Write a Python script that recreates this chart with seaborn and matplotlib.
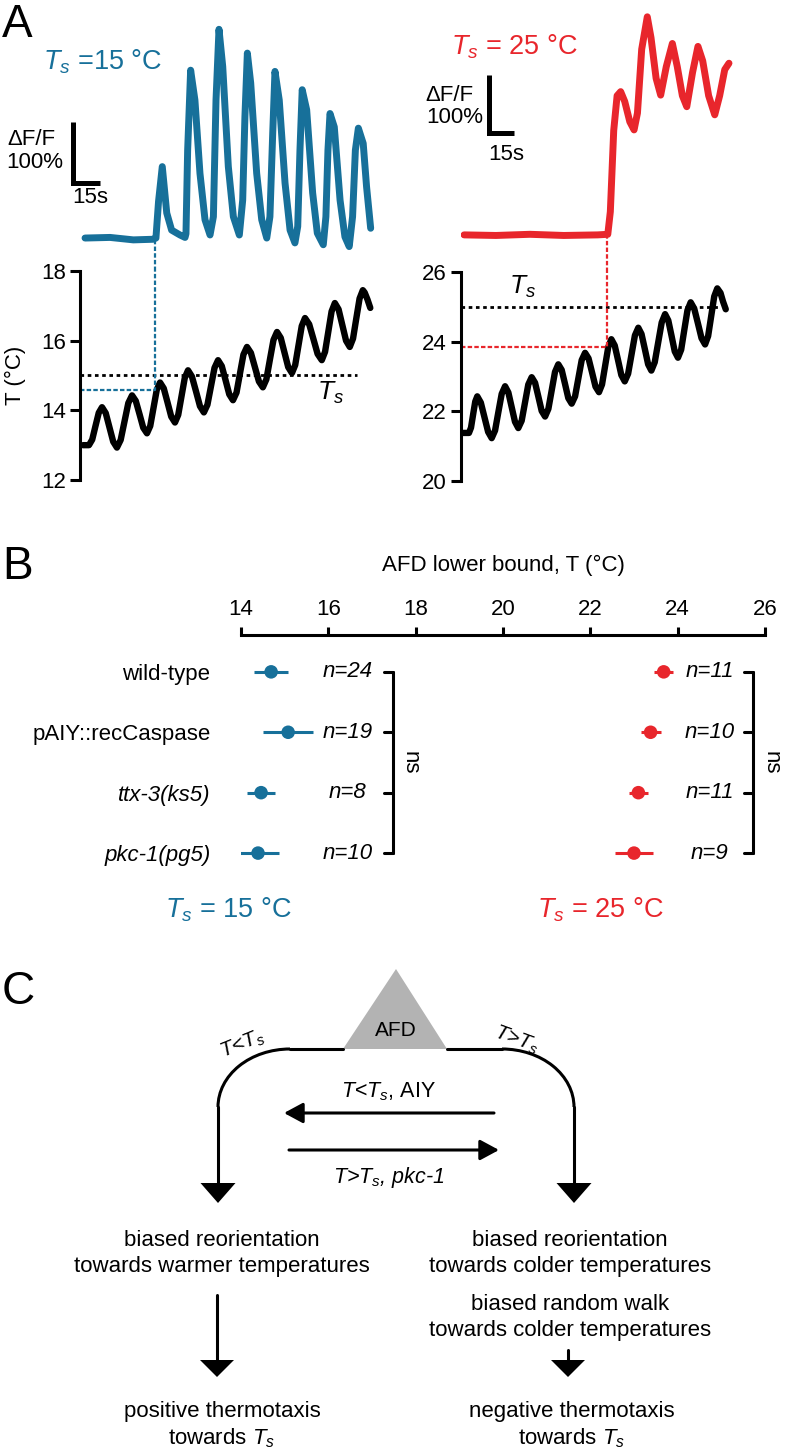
import matplotlib
matplotlib.use('Agg')
import matplotlib.pyplot as plt
import seaborn as sns
from matplotlib.patches import Polygon, Arc

# ---- panel A: Ts = 15 C (time in s, dF/F in %, temperature in C) ----
ca15_t = [1.1, 14.5, 27.0, 37.7, 39.1, 40.5, 42.5, 44.9, 47.5, 52.0, 54.7,
          55.2, 56.1, 57.7, 60.0, 62.7, 65.4, 68.1,
          69.9, 71.3, 72.9, 74.9, 77.9, 80.6, 83.8,
          85.6, 86.8, 88.1, 89.9, 93.1, 95.8, 98.5,
          100.2, 101.7, 102.9, 105.2, 108.3, 111.0, 113.6,
          115.1, 116.3, 117.5, 119.9, 123.1, 125.6, 128.8,
          130.2, 131.3, 132.4, 134.7, 137.8, 140.4, 142.7,
          144.5, 146.0, 147.6, 150.2, 152.0, 154.2]
ca15_v = [0, 1, -3, -2, 0, 60, 117, 41, 13, 5, 1,
          7, 144, 275, 226, 106, 30, 5,
          35, 226, 342, 281, 117, 35, 5,
          62, 199, 303, 254, 106, 30, 0,
          35, 172, 273, 226, 90, 13, -8,
          19, 144, 243, 210, 74, 8, -11,
          35, 144, 204, 182, 62, 2, -14,
          35, 144, 180, 155, 84, 16]
temp15_t = [0, 3.2, 4.95, 6.7, 8.45, 10.2, 12.2, 14.2, 16.2, 18.2, 20.2, 22.25, 24.3,
            26.3, 28.3, 30.3, 32.3, 34.3, 36.05, 37.8, 39.55, 41.3, 43.3, 45.3, 47.3,
            49.3, 51.05, 52.8, 54.55, 56.3, 58.4, 60.55, 62.7, 64.8, 66.7, 68.6, 70.5,
            72.4, 74.4, 76.4, 78.4, 80.4, 82.3, 84.15, 86.0, 87.9, 90.0, 92.15, 94.3,
            96.4, 98.3, 100.2, 102.1, 104.0, 106.0, 108.0, 110.0, 112.0, 113.75, 115.5,
            117.25, 119.0, 121.25, 123.5, 125.75, 128.0, 129.75, 131.5, 133.25, 135.0,
            137.0, 139.0, 141.0, 143.0, 144.75, 146.5, 148.25, 150.0, 151.0, 152.5, 154.0]
temp15_v = [13.0, 13.0, 13.16, 13.55, 13.93, 14.09, 13.92, 13.51, 13.10, 12.93, 13.15,
            13.68, 14.21, 14.43, 14.27, 13.89, 13.50, 13.34, 13.55, 14.07, 14.59, 14.80,
            14.63, 14.23, 13.82, 13.65, 13.87, 14.40, 14.93, 15.15, 14.97, 14.55, 14.12,
            13.94, 14.16, 14.69, 15.22, 15.44, 15.27, 14.87, 14.46, 14.29, 14.51, 15.06,
            15.60, 15.82, 15.65, 15.24, 14.83, 14.66, 14.89, 15.46, 16.02, 16.25, 16.08,
            15.66, 15.24, 15.07, 15.30, 15.86, 16.42, 16.65, 16.47, 16.05, 15.62, 15.44,
            15.68, 16.26, 16.84, 17.08, 16.90, 16.45, 16.00, 15.82, 16.06, 16.64, 17.21,
            17.45, 17.38, 17.18, 16.94]
thr15 = (38.6, 14.58)      # time of AFD onset, lower bound temperature

# ---- panel A: Ts = 25 C ----
ca25_t = [1.2, 20, 40, 60, 80, 86.0, 87.5, 89.5, 91.5, 93.6, 96.0, 99.0, 101.5,
          103.5, 106.0, 109.3, 111.5, 114.5, 117.2, 120.5, 124.1, 127.0, 130.0,
          132.6, 136.0, 139.2, 142.0, 145.5, 149.1, 152.0, 155.0, 157.5]
ca25_v = [0, -1, 1, -1, 0, 1, 40, 180, 240, 247, 230, 195, 181, 210, 320, 376, 340,
          270, 241, 290, 330, 290, 240, 221, 280, 325, 300, 240, 207, 240, 285, 296]
temp25_t = [0, 4.1, 5.3, 6.55, 7.8, 9.0, 11.1, 13.25, 15.4, 17.5, 19.5, 21.45, 23.4,
            25.4, 27.35, 29.3, 31.25, 33.2, 35.2, 37.15, 39.1, 41.1, 43.1, 45.05, 47.0,
            49.0, 50.95, 52.9, 54.85, 56.8, 58.8, 60.75, 62.7, 64.7, 66.7, 68.65, 70.6,
            72.6, 74.65, 76.7, 78.75, 80.8, 82.6, 84.45, 86.3, 88.1, 90.1, 92.05, 94.0,
            96.0, 98.0, 100.0, 102.0, 104.0, 105.9, 107.85, 109.8, 111.7, 113.7, 115.75,
            117.8, 119.8, 121.7, 123.6, 125.5, 127.4, 129.3, 131.15, 133.0, 134.9, 137.0,
            139.15, 141.3, 143.4, 145.2, 147.0, 148.8, 150.6, 152.5, 154.0, 155.6]
temp25_v = [21.38, 21.38, 21.53, 21.91, 22.28, 22.43, 22.25, 21.83, 21.41, 21.23, 21.45,
            21.98, 22.50, 22.72, 22.54, 22.12, 21.70, 21.52, 21.73, 22.25, 22.77, 22.98,
            22.82, 22.42, 22.01, 21.85, 22.07, 22.60, 23.13, 23.35, 23.19, 22.79, 22.38,
            22.22, 22.43, 22.95, 23.47, 23.68, 23.52, 23.12, 22.71, 22.55, 22.77, 23.31,
            23.85, 24.07, 23.89, 23.47, 23.04, 22.86, 23.08, 23.63, 24.18, 24.40, 24.22,
            23.79, 23.35, 23.17, 23.41, 23.98, 24.55, 24.79, 24.61, 24.17, 23.72, 23.54,
            23.77, 24.34, 24.90, 25.13, 24.95, 24.53, 24.10, 23.92, 24.16, 24.73, 25.30,
            25.53, 25.40, 25.15, 24.93]
thr25 = (85.7, 23.84)

# ---- panel B: AFD lower bound ----
strains = ['wild-type', 'pAIY::recCaspase', 'ttx-3(ks5)', 'pkc-1(pg5)']
strain_italic = [False, False, True, True]
lb15_mean = [14.69, 15.08, 14.46, 14.39]
lb15_sem = [0.39, 0.57, 0.32, 0.47]
lb15_n = ['n=24', 'n=19', 'n=8', 'n=10']
lb25_mean = [23.68, 23.38, 23.10, 23.00]
lb25_sem = [0.22, 0.23, 0.22, 0.43]
lb25_n = ['n=11', 'n=10', 'n=11', 'n=9']

BLUE = '#17709a'
RED = '#e8262c'

sns.set_theme(style='white')
plt.rcParams['font.family'] = ['Liberation Sans', 'DejaVu Sans']
plt.rcParams['mathtext.fontset'] = 'custom'
plt.rcParams['mathtext.rm'] = 'Liberation Sans'
plt.rcParams['mathtext.it'] = 'Liberation Sans:italic'
plt.rcParams['mathtext.bf'] = 'Liberation Sans:bold'
plt.rcParams.update({'text.color': 'black', 'axes.labelcolor': 'black',
                     'xtick.color': 'black', 'ytick.color': 'black'})

W, H = 788, 1456
FS = 16
fig = plt.figure(figsize=(W / 100, H / 100), dpi=100)


def rect(x0, y0, x1, y1):
    # pixel box (top-left origin) -> figure fraction
    return [x0 / W, 1 - y1 / H, (x1 - x0) / W, (y1 - y0) / H]


###--- panel A ---###
panels = [
    dict(ca_box=(80, 0, 380, 271), t_box=(80, 271, 380, 480), xlim=(-1.6, 159.2),
         ca_ylim=(-54, 390), t_ylim=(12, 18), ca_t=ca15_t, ca_v=ca15_v,
         tt=temp15_t, tv=temp15_v, thr=thr15, ts=15, ts_end=146.8, color=BLUE,
         ts_lab=(125.4, 14.30), bar=(-5.6, 9.1, 90, 190),
         dff=(-15.0, 161), pct=(-10.8, 123), sec=(3.8, 67), ylabel=True),
    dict(ca_box=(461, 0, 760, 272), t_box=(461, 272, 760, 481), xlim=(-0.6, 175.8),
         ca_ylim=(-64, 405), t_ylim=(20, 26), ca_t=ca25_t, ca_v=ca25_v,
         tt=temp25_t, tv=temp25_v, thr=thr25, ts=25, ts_end=151.6, color=RED,
         ts_lab=(27.7, 25.36), bar=(16.2, 30.7, 176, 276),
         dff=(7.0, 241), pct=(12.6, 202), sec=(26.0, 138), ylabel=False),
]

for p in panels:
    ax_ca = fig.add_axes(rect(*p['ca_box']))
    ax_t = fig.add_axes(rect(*p['t_box']))

    # calcium trace
    sns.lineplot(x=p['ca_t'], y=p['ca_v'], ax=ax_ca, color=p['color'], lw=5.0,
                 sort=False, estimator=None, solid_joinstyle='round', solid_capstyle='round')
    ax_ca.set_xlim(p['xlim'])
    ax_ca.set_ylim(p['ca_ylim'])
    ax_ca.axis('off')
    # scale bar
    x0, x1, y0, y1 = p['bar']
    ax_ca.plot([x0, x0, x1], [y1, y0, y0], color='black', lw=3.6, clip_on=False,
               solid_joinstyle='miter', solid_capstyle='butt')
    ax_ca.text(*p['dff'], 'ΔF/F', ha='right', va='center', fontsize=FS)
    ax_ca.text(*p['pct'], '100%', ha='right', va='center', fontsize=FS)
    ax_ca.text(*p['sec'], '15s', ha='center', va='center', fontsize=FS)
    ax_ca.plot([p['thr'][0]] * 2, [p['ca_ylim'][0], 0], color=p['color'], lw=1.6,
               ls=(0, (2, 1)), clip_on=False)

    # temperature trace
    sns.lineplot(x=p['tt'], y=p['tv'], ax=ax_t, color='black', lw=4.6,
                 sort=False, estimator=None, solid_joinstyle='round', solid_capstyle='round')
    ax_t.plot([p['xlim'][0], p['ts_end']], [p['ts'], p['ts']], color='black', lw=2.0,
              ls=(0, (1.3, 1.3)))
    ax_t.plot([p['xlim'][0], p['thr'][0], p['thr'][0]],
              [p['thr'][1], p['thr'][1], p['t_ylim'][1]], color=p['color'], lw=1.6,
              ls=(0, (2, 1)), clip_on=False)
    ax_t.text(*p['ts_lab'], r'$T_s$', ha='left', va='baseline', fontsize=19)
    ax_t.set_xlim(p['xlim'])
    ax_t.set_ylim(p['t_ylim'])
    ax_t.set_yticks(range(p['t_ylim'][0], p['t_ylim'][1] + 1, 2))
    ax_t.set_xticks([])
    sns.despine(ax=ax_t, bottom=True)
    ax_t.spines['left'].set_linewidth(2.2)
    ax_t.spines['left'].set_color('black')
    ax_t.tick_params(axis='y', left=True, length=7, width=2.2, direction='out',
                     pad=3, labelsize=FS, colors='black')
    if p['ylabel']:
        ax_t.set_ylabel('T (°C)', fontsize=FS, labelpad=11)
    else:
        ax_t.set_ylabel('')
    ax_t.set_xlabel('')

fig.text(43 / W, 1 - 62 / H, r'$T_s$ =15 °C', color=BLUE, fontsize=19.5,
         ha='left', va='center')
fig.text(451 / W, 1 - 47 / H, r'$T_s$ = 25 °C', color=RED, fontsize=19.5,
         ha='left', va='center')

###--- panel B ---###
axB = fig.add_axes(rect(241, 635, 765, 870))
rows = list(range(len(strains)))
groups = [(lb15_mean, lb15_sem, lb15_n, BLUE, 16.45, 17.48, 17.87),
          (lb25_mean, lb25_sem, lb25_n, RED, 24.74, 25.72, 26.13)]
for means, sems, nlab, color, n_x, br_x, ns_x in groups:
    axB.errorbar(means, rows, xerr=sems, fmt='none', ecolor=color, elinewidth=2.2,
                 capsize=0, zorder=2)
    sns.scatterplot(x=means, y=rows, color=color, s=95, edgecolor='none', ax=axB, zorder=3)
    for r, lab in zip(rows, nlab):
        axB.text(n_x, r, lab, ha='center', va='center', fontsize=FS, style='italic')
        axB.plot([br_x - 0.2, br_x], [r, r], color='black', lw=2.2, clip_on=False)
    axB.plot([br_x, br_x], [rows[0], rows[-1]], color='black', lw=2.2, clip_on=False)
    axB.text(ns_x, (rows[0] + rows[-1]) / 2, 'ns', rotation=270, ha='center',
             va='center', fontsize=FS)

axB.set_xlim(14, 26)
axB.set_ylim(3.28, -0.61)
axB.xaxis.tick_top()
axB.xaxis.set_label_position('top')
axB.set_xticks(range(14, 27, 2))
for s in ['bottom', 'left', 'right']:
    axB.spines[s].set_visible(False)
axB.spines['top'].set_linewidth(2.2)
axB.spines['top'].set_color('black')
axB.tick_params(axis='x', top=True, bottom=False, length=6, width=2.2, direction='out',
                labelsize=FS, pad=5, colors='black')
axB.set_xlabel('AFD lower bound, T (°C)', fontsize=FS, labelpad=20)
axB.set_yticks(rows)
axB.set_yticklabels(strains, fontsize=FS)
axB.tick_params(axis='y', left=False, length=0, pad=22)
for lbl, it in zip(axB.get_yticklabels(), strain_italic):
    if it:
        lbl.set_style('italic')

fig.text(228 / W, 1 - 910 / H, r'$T_s$ = 15 °C', color=BLUE, fontsize=19.5,
         ha='center', va='center')
fig.text(600 / W, 1 - 910 / H, r'$T_s$ = 25 °C', color=RED, fontsize=19.5,
         ha='center', va='center')

###--- panel C: schematic (pixel coordinates) ---###
axC = fig.add_axes(rect(0, 940, 788, 1456))
axC.set_xlim(0, W)
axC.set_ylim(1456, 940)
axC.axis('off')
lw = 2.2
axC.add_patch(Polygon([(343, 1049), (447, 1049), (396, 969)], closed=True,
                      fc='#b3b3b3', ec='none'))
axC.text(396, 1036, 'AFD', ha='center', va='baseline', fontsize=15)
axC.plot([343, 290], [1049, 1049], color='black', lw=lw)
axC.plot([447, 502], [1049, 1049], color='black', lw=lw)
axC.add_patch(Arc((290, 1107), 144, 116, theta1=180, theta2=270, lw=lw, color='black'))
axC.add_patch(Arc((502, 1107), 144, 116, theta1=270, theta2=360, lw=lw, color='black'))
for x in [218, 574]:
    axC.plot([x, x], [1107, 1186], color='black', lw=lw)
    axC.add_patch(Polygon([(x - 17.5, 1183), (x + 17.5, 1183), (x, 1203)], fc='black', ec='none'))
axC.text(243, 1044, r'$T$<$T_s$', ha='center', va='center', fontsize=15, rotation=22,
         style='italic')
axC.text(517, 1040, r'$T$>$T_s$', ha='center', va='center', fontsize=15, rotation=-20,
         style='italic')

arrow_kw = dict(arrowstyle='-|>,head_length=1.15,head_width=0.62', lw=lw, color='black',
                shrinkA=0, shrinkB=0, mutation_scale=10)
axC.annotate('', xy=(284, 1113), xytext=(494, 1113), arrowprops=arrow_kw)
axC.annotate('', xy=(499, 1150), xytext=(289, 1150), arrowprops=arrow_kw)
axC.text(389, 1097, r'$T$<$T_s$, AIY', ha='center', va='baseline', fontsize=15.5)
axC.text(389, 1183, r'$T$>$T_s$, pkc-1', ha='center', va='baseline', fontsize=15.5,
         style='italic')

axC.plot([217, 217], [1295, 1362], color='black', lw=lw)
axC.add_patch(Polygon([(200, 1360), (234, 1360), (217, 1377)], fc='black', ec='none'))
axC.plot([568, 568], [1350, 1362], color='black', lw=lw)
axC.add_patch(Polygon([(551, 1360), (585, 1360), (568, 1377)], fc='black', ec='none'))

desc = [(222, 1246, 'biased reorientation'),
        (222, 1272, 'towards warmer temperatures'),
        (570, 1246, 'biased reorientation'),
        (570, 1272, 'towards colder temperatures'),
        (570, 1310, 'biased random walk'),
        (570, 1336, 'towards colder temperatures'),
        (222, 1417, 'positive thermotaxis'),
        (222, 1444, r'towards $T_s$'),
        (572, 1417, 'negative thermotaxis'),
        (572, 1444, r'towards $T_s$')]
for x, y, s in desc:
    axC.text(x, y, s, ha='center', va='baseline', fontsize=FS)

# panel letters
fig.text(2 / W, 1 - 3 / H, 'A', fontsize=33, ha='left', va='top')
fig.text(2 / W, 1 - 545 / H, 'B', fontsize=33, ha='left', va='top')
fig.text(2 / W, 1 - 970 / H, 'C', fontsize=33, ha='left', va='top')

fig.savefig('out.png', dpi=100)
